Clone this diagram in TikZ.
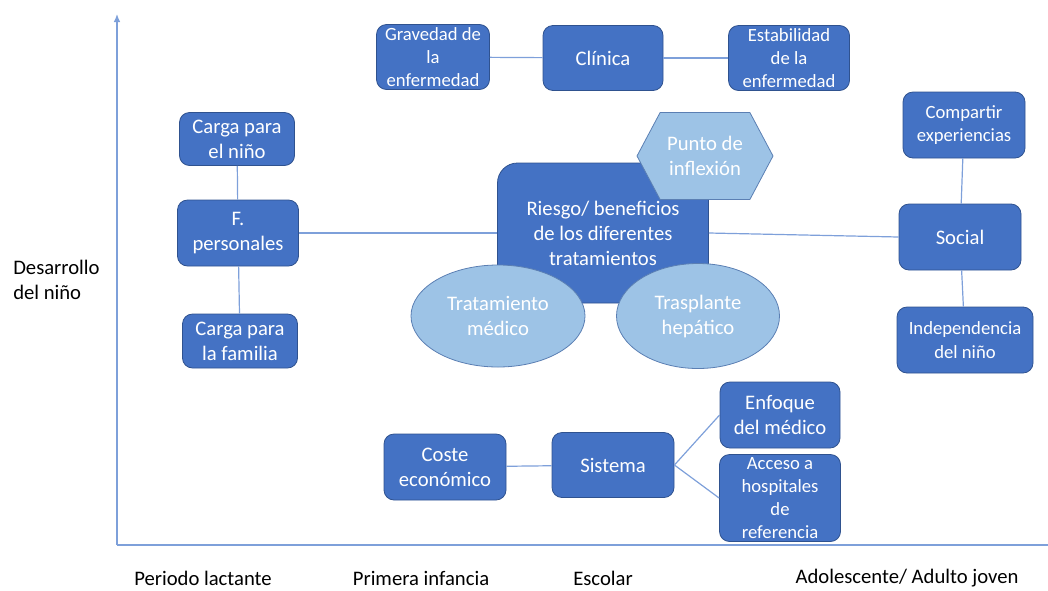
\documentclass[tikz,border=0pt]{standalone}
\usepackage{fontspec}
\setmainfont{Carlito}
\usepackage{tikz}
\usetikzlibrary{arrows.meta,positioning,shapes.geometric,shapes.symbols}
\definecolor{CBlue}{HTML}{4472C4}
\definecolor{CEdge}{HTML}{2F528F}
\definecolor{CSoft}{HTML}{9DC3E6}
\definecolor{CSoftEdge}{HTML}{5B7FB3}
\definecolor{CLink}{HTML}{7EA0DA}
\newcommand{\bigtxt}{\fontsize{15.5}{18.75}\selectfont}
\newcommand{\smalltxt}{\fontsize{14}{17.4}\selectfont}

\begin{document}
\begin{tikzpicture}[x=0.75pt,y=-0.75pt,>=Latex]
\tikzset{mbox/.style={draw=CEdge,line width=0.6pt,fill=CBlue,text=white,rounded corners=7.5pt,minimum width=91.5pt,minimum height=49.5pt,align=center,inner xsep=2pt,inner ysep=0pt,font=\bigtxt},sbox/.style={mbox,font=\smalltxt},soft/.style={draw=CSoftEdge,line width=0.6pt,fill=CSoft,text=white,align=center,inner sep=1pt,font=\bigtxt},link/.style={draw=CLink,line width=0.9pt},axis/.style={draw=CLink,line width=1pt},lbl/.style={text=black,font=\bigtxt,inner sep=0pt}}
\useasboundingbox (0,0) rectangle (1048,590);
\coordinate (orig) at (117,545);
\coordinate (ytop) at (117,14);
\coordinate (xend) at (1048,545);
\draw[axis,-{Latex[length=6pt,width=5pt]}] (orig) -- (ytop);
\draw[axis] (orig) -- (xend);
\node[sbox,minimum width=84.75pt,minimum height=48.75pt] (grav) at (433,57) {Gravedad de\\la\\enfermedad};
\node[mbox,minimum width=90pt,minimum height=48.75pt] (clin) at (603,58) {Clínica};
\node[sbox,minimum width=90.75pt,minimum height=48.75pt] (estab) at (789,58) {Estabilidad\\de la\\enfermedad};
\node[mbox,minimum width=86.25pt,minimum height=39.75pt] (cnino) at (237,139) {Carga para\\el niño};
\node[mbox,minimum width=90.75pt] (fpers) at (238,233) {F.\\personales};
\node[mbox,minimum width=86.25pt,minimum height=40.5pt] (cfam) at (240,341) {Carga para\\la familia};
\node[mbox,rounded corners=15pt,minimum width=158.25pt,minimum height=105pt] (riesgo) at (603,233) {Riesgo/ beneficios\\de los diferentes\\tratamientos};
\node[soft,ellipse,minimum width=130.5pt,minimum height=76.5pt] (trat) at (498,316) {Tratamiento\\médico};
\node[soft,ellipse,minimum width=122.25pt,minimum height=78.75pt] (trasp) at (698,316) {Trasplante\\hepático};
\node[soft,signal,signal to=east and west,signal pointer angle=124,minimum width=102pt,minimum height=65.25pt] (punto) at (705,156) {Punto de\\inflexión};
\node[sbox] (comp) at (964,125) {Compartir\\experiencias};
\node[mbox] (social) at (960,237) {Social};
\node[sbox,minimum width=102pt] (indep) at (965,340) {Independencia\\del niño};
\node[mbox] (coste) at (445,467) {Coste\\económico};
\node[mbox,minimum height=48.75pt] (sist) at (613,465) {Sistema};
\node[mbox,minimum width=90pt] (enfo) at (780,415) {Enfoque\\del médico};
\node[sbox,minimum width=90.75pt,minimum height=65.25pt] (acc) at (780,498) {Acceso a\\hospitales\\de\\referencia};
\node[lbl,anchor=west,align=left] (desa) at (13,280) {Desarrollo\\del niño};
\node[lbl] (lact) at (203,578) {Periodo lactante};
\node[lbl] (infan) at (421,578) {Primera infancia};
\node[lbl] (esc) at (603,578) {Escolar};
\node[lbl] (adol) at (907,578) {Adolescente/ Adulto joven};
\draw[link] (grav) -- (clin);
\draw[link] (clin) -- (estab);
\draw[link] (cnino) -- (fpers);
\draw[link] (fpers) -- (cfam);
\draw[link] (fpers.east) -- (riesgo.west);
\draw[link] (riesgo.east) -- (social.west);
\draw[link] (comp) -- (social);
\draw[link] (social) -- (indep);
\draw[link] (coste) -- (sist);
\draw[link] (sist.east) -- (enfo.west);
\draw[link] (sist.east) -- (acc.west);
\end{tikzpicture}
\end{document}
